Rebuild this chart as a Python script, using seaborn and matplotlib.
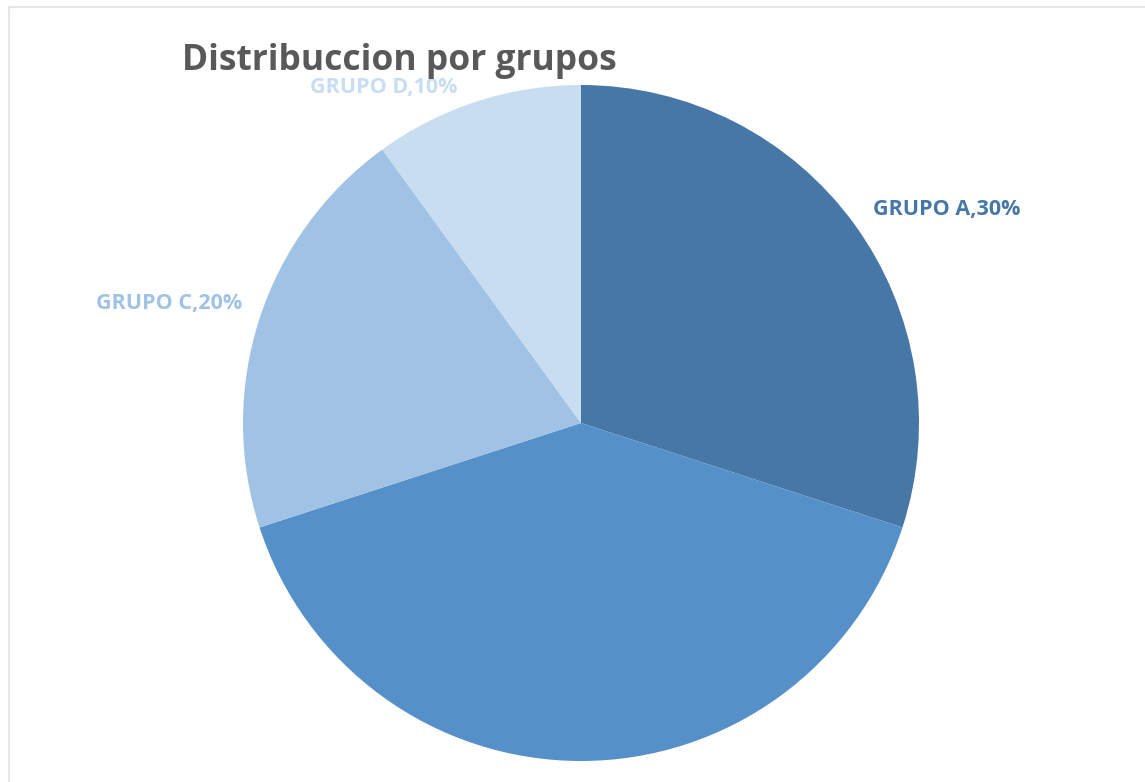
import matplotlib
matplotlib.use("Agg")
import matplotlib.pyplot as plt
import seaborn as sns
from matplotlib.lines import Line2D

# data
grupos = ["GRUPO A", "GRUPO B", "GRUPO C", "GRUPO D"]
porcentajes = [30, 40, 20, 10]
colores = ["#4677a6", "#5591c8", "#a0c3e5", "#c9ddf1"]
mostrar_etiqueta = [True, False, True, True]

sns.set_theme(style="white")
plt.rcParams["font.family"] = ["Open Sans", "DejaVu Sans"]

fig = plt.figure(figsize=(11.45, 7.82), dpi=100)
ax = fig.add_axes([243 / 1145, 1 - 761 / 782, 676 / 1145, 676 / 782])

wedges, _ = ax.pie(porcentajes, colors=colores, startangle=90, counterclock=False,
                   radius=1, wedgeprops=dict(linewidth=0))
ax.set_xlim(-1, 1)
ax.set_ylim(-1, 1)
ax.set_aspect("equal")
ax.axis("off")

# label positions (data coords, pie radius = 1)
pos_etiquetas = [(1.083, 0.633), (0, 0), (-1.219, 0.355), (-0.583, 0.994)]
for g, p, c, show, (x, y) in zip(grupos, porcentajes, colores, mostrar_etiqueta, pos_etiquetas):
    if not show:
        continue
    ax.text(x, y, f"{g},{p}%", color=c, fontsize=15.5, fontweight="bold",
            ha="center", va="center", clip_on=False)

fig.text(399 / 1145, 1 - 61 / 782, "Distribuccion por grupos", color="#595959",
         fontsize=25.5, fontweight="bold", ha="center", va="center")

# light frame
fig.add_artist(Line2D([9 / 1145, 1], [1 - 7 / 782] * 2, color="#e6e6e6", lw=1.5))
fig.add_artist(Line2D([9 / 1145] * 2, [0, 1 - 7 / 782], color="#e6e6e6", lw=1.5))

fig.savefig("out.png", dpi=100, facecolor="white")
